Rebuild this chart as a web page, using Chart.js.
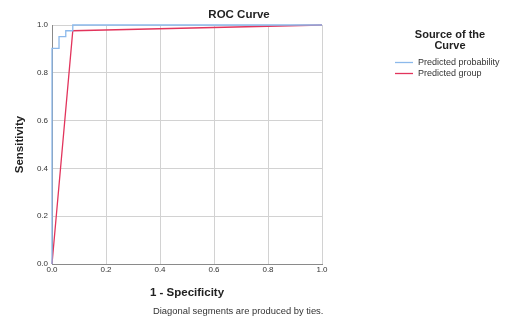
<!DOCTYPE html>
<html>
<head>
<meta charset="utf-8">
<script src="https://cdn.jsdelivr.net/npm/chart.js@4"></script>
<style>
  body { margin: 0; background: #fff; font-family: "Liberation Sans", Arial, sans-serif; }
  #wrap { position: relative; width: 508px; height: 320px; }
  #rocChart { position: absolute; left: 0; top: 0; }
  .title { position: absolute; left: 239px; top: 8px; transform: translateX(-50%); font-size: 11.5px; font-weight: bold; color: #222; white-space: nowrap; }
  .legend { position: absolute; left: 390px; top: 29px; width: 120px; color: #222; }
  .legend h4 { margin: 0 0 6px 0; font-size: 11px; line-height: 11px; text-align: center; width: 120px; }
  .legend .item { position: relative; height: 11px; font-size: 9px; line-height: 11px; padding-left: 28px; color: #333; white-space: nowrap; }
  .note { position: absolute; left: 153px; top: 305px; font-size: 9.4px; color: #333; white-space: nowrap; }
</style>
</head>
<body>
<div id="wrap">
  <canvas id="rocChart" width="508" height="320"></canvas>
  <div class="title">ROC Curve</div>
  <div class="legend">
    <h4>Source of the<br>Curve</h4>
    <div class="item">Predicted probability</div>
    <div class="item">Predicted group</div>
  </div>
  <div class="note">Diagonal segments are produced by ties.</div>
</div>
<script>
const seriesNames = ['Predicted probability', 'Predicted group'];
const seriesColors = ['rgb(140,185,235)', 'rgb(226,52,92)'];
const probFpr = [0, 0, 0.026, 0.026, 0.051, 0.051, 0.077, 0.077, 1];
const probTpr = [0, 0.902, 0.902, 0.951, 0.951, 0.976, 0.976, 1, 1];
const groupFpr = [0, 0.077, 1];
const groupTpr = [0, 0.976, 1];
const axisTicks = [0, 0.2, 0.4, 0.6, 0.8, 1.0];

const toPoints = (xs, ys) => xs.map((x, i) => ({ x: x, y: ys[i] }));

const tickFont = { family: 'Liberation Sans, Arial, sans-serif', size: 8 };
const titleFont = { family: 'Liberation Sans, Arial, sans-serif', size: 11.5, weight: 'bold' };

// short line samples next to the html legend text
const legendSwatches = {
  id: 'legendSwatches',
  afterDraw(chart) {
    const c = chart.ctx;
    c.save();
    chart.data.datasets.forEach((ds, i) => {
      const y = 62.5 + i * 11;
      c.strokeStyle = ds.borderColor;
      c.lineWidth = 1.3;
      c.beginPath();
      c.moveTo(395, y);
      c.lineTo(413, y);
      c.stroke();
    });
    c.restore();
  }
};

const ctx = document.getElementById('rocChart').getContext('2d');
new Chart(ctx, {
  type: 'scatter',
  data: {
    datasets: [
      {
        label: seriesNames[0],
        data: toPoints(probFpr, probTpr),
        showLine: true,
        borderColor: seriesColors[0],
        borderWidth: 1.3,
        pointRadius: 0,
        clip: 3
      },
      {
        label: seriesNames[1],
        data: toPoints(groupFpr, groupTpr),
        showLine: true,
        borderColor: seriesColors[1],
        borderWidth: 1.3,
        pointRadius: 0,
        clip: 3
      }
    ]
  },
  options: {
    responsive: false,
    animation: false,
    layout: { padding: { top: 25, right: 186, left: 0, bottom: 0 } },
    plugins: {
      legend: { display: false },
      tooltip: { enabled: false }
    },
    scales: {
      x: {
        type: 'linear',
        min: 0,
        max: 1,
        afterBuildTicks: scale => { scale.ticks = axisTicks.map(v => ({ value: v })); },
        afterFit: scale => { scale.height = 56; },
        ticks: { font: tickFont, color: '#333', padding: 1, maxRotation: 0, callback: v => v.toFixed(1) },
        grid: { color: '#d2d2d2', drawTicks: false },
        border: { color: '#8a8a8a' },
        title: { display: true, text: '1 - Specificity', font: titleFont, color: '#222', padding: { top: 0, bottom: 20 } }
      },
      y: {
        type: 'linear',
        min: 0,
        max: 1,
        afterBuildTicks: scale => { scale.ticks = axisTicks.map(v => ({ value: v })); },
        afterFit: scale => { scale.width = 52; },
        ticks: { font: tickFont, color: '#333', padding: 4, callback: v => v.toFixed(1) },
        grid: { color: '#d2d2d2', drawTicks: false },
        border: { color: '#8a8a8a' },
        title: { display: true, text: 'Sensitivity', font: titleFont, color: '#222', padding: { top: 13, bottom: 0 } }
      }
    }
  },
  plugins: [legendSwatches]
});
</script>
</body>
</html>
